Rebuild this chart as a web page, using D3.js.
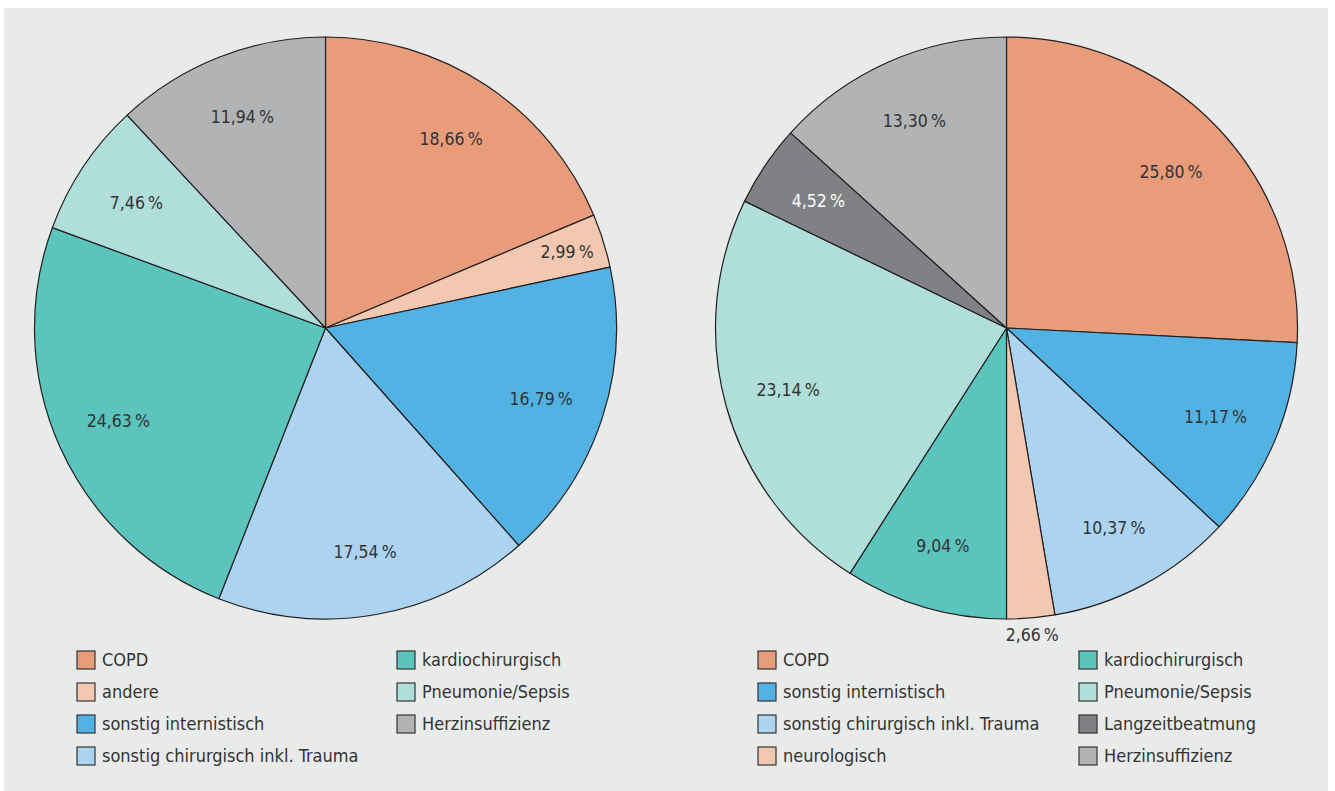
<!DOCTYPE html>
<html lang="de">
<head>
<meta charset="utf-8">
<title>Diagnosen</title>
<script src="https://cdn.jsdelivr.net/npm/d3@7"></script>
<style>
  body { margin: 0; background: #fff; }
  svg text { font-family: "Liberation Sans Narrow", "DejaVu Sans Condensed", "Noto Sans", sans-serif; }
</style>
</head>
<body>
<svg width="1335" height="791"></svg>
<script>
// Daten (Anteile in %)
var leftLabels = ["COPD", "andere", "sonstig internistisch", "sonstig chirurgisch inkl. Trauma",
                  "kardiochirurgisch", "Pneumonie/Sepsis", "Herzinsuffizienz"];
var leftValues = [18.66, 2.99, 16.79, 17.54, 24.63, 7.46, 11.94];

var rightLabels = ["COPD", "sonstig internistisch", "sonstig chirurgisch inkl. Trauma", "neurologisch",
                   "kardiochirurgisch", "Pneumonie/Sepsis", "Langzeitbeatmung", "Herzinsuffizienz"];
var rightValues = [25.80, 11.17, 10.37, 2.66, 9.04, 23.14, 4.52, 13.30];

// Legendenreihenfolge (Spalte 1, dann Spalte 2)
var leftLegend = ["COPD", "andere", "sonstig internistisch", "sonstig chirurgisch inkl. Trauma",
                  "kardiochirurgisch", "Pneumonie/Sepsis", "Herzinsuffizienz"];
var rightLegend = ["COPD", "sonstig internistisch", "sonstig chirurgisch inkl. Trauma", "neurologisch",
                   "kardiochirurgisch", "Pneumonie/Sepsis", "Langzeitbeatmung", "Herzinsuffizienz"];

var color = d3.scaleOrdinal()
    .domain(["COPD", "andere", "neurologisch", "sonstig internistisch", "sonstig chirurgisch inkl. Trauma",
             "kardiochirurgisch", "Pneumonie/Sepsis", "Herzinsuffizienz", "Langzeitbeatmung"])
    .range(["#e99c7a", "#f2c8b1", "#f2c8b1", "#52b2e4", "#acd4f0",
            "#5bc4bd", "#b0dedb", "#b2b3b5", "#808185"]);

var svg = d3.select("svg");

// Hintergrund
svg.append("rect")
    .attr("x", 4).attr("y", 8)
    .attr("width", 1324).attr("height", 783)
    .attr("fill", "#e9ebea");

var R = 291;
var fmt = function(v) { return d3.format(".2f")(v).replace(".", ",") + "\u2009%"; };

function drawPie(cx, cy, labels, values) {
  var data = labels.map(function(l, i) { return {label: l, value: values[i]}; });
  var pie = d3.pie().sort(null).value(function(d) { return d.value; });
  var arc = d3.arc().innerRadius(0).outerRadius(R);
  var g = svg.append("g").attr("transform", "translate(" + cx + "," + cy + ")");
  var arcs = pie(data);

  g.selectAll("path")
    .data(arcs)
    .enter().append("path")
      .attr("d", arc)
      .attr("fill", function(d) { return color(d.data.label); })
      .attr("stroke", "#231f20")
      .attr("stroke-width", 1.2)
      .attr("stroke-linejoin", "round");

  // Prozentwerte; sehr kleine Segmente außerhalb
  g.selectAll("text.pct")
    .data(arcs)
    .enter().append("text")
      .attr("class", "pct")
      .attr("transform", function(d) {
        var r = d.data.value < 2.8 ? R + 17 : (d.data.value < 4 ? R * 0.87 : R * 0.78);
        var a = (d.startAngle + d.endAngle) / 2;
        return "translate(" + (r * Math.sin(a)) + "," + (-r * Math.cos(a)) + ")";
      })
      .attr("text-anchor", "middle")
      .attr("dy", "0.35em")
      .attr("font-size", 17.5)
      .attr("fill", function(d) { return d.data.label === "Langzeitbeatmung" ? "#fff" : "#333"; })
      .text(function(d) { return fmt(d.data.value); });
}

function drawLegend(x0, x1, items) {
  var rows = Math.ceil(items.length / 2);
  var lg = svg.selectAll(null)
    .data(items)
    .enter().append("g")
      .attr("transform", function(d, i) {
        var col = i < rows ? 0 : 1;
        var row = i < rows ? i : i - rows;
        return "translate(" + (col ? x1 : x0) + "," + (651 + row * 32) + ")";
      });
  lg.append("rect")
      .attr("width", 18).attr("height", 18)
      .attr("fill", function(d) { return color(d); })
      .attr("stroke", "#333").attr("stroke-width", 1.2);
  lg.append("text")
      .attr("x", 25).attr("y", 9).attr("dy", "0.35em")
      .attr("font-size", 18)
      .attr("fill", "#333")
      .text(function(d) { return d; });
}

drawPie(325.5, 328, leftLabels, leftValues);
drawPie(1006.5, 328, rightLabels, rightValues);
drawLegend(77, 397, leftLegend);
drawLegend(758, 1079, rightLegend);
</script>
</body>
</html>
